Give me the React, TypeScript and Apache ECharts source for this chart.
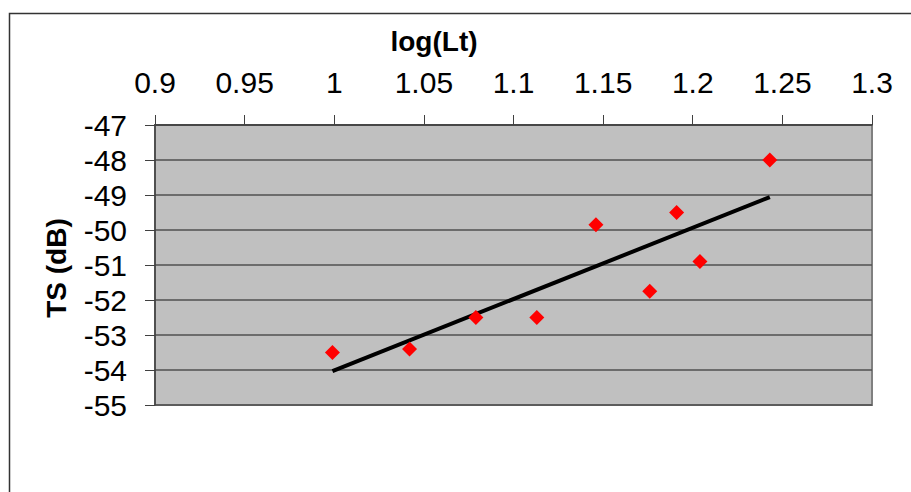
import React, { useEffect, useRef } from "react";
import * as echarts from "echarts";

// Scatter data
const logLt: number[] = [0.999, 1.042, 1.079, 1.113, 1.146, 1.176, 1.191, 1.204, 1.243];
const tsDb: number[] = [-53.5, -53.4, -52.5, -52.5, -49.85, -51.75, -49.5, -50.9, -48.0];

// Trend line end points
const trendX: number[] = [0.999, 1.243];
const trendY: number[] = [-54.03, -49.06];

const xTitle = "log(Lt)";
const yTitle = "TS (dB)";

const FONT = "'Liberation Sans', Arial, Helvetica, sans-serif";

export default function App() {
  const ref = useRef<HTMLDivElement>(null);

  useEffect(() => {
    if (!ref.current) return;
    const chart = echarts.init(ref.current, null, { renderer: "svg" });
    const points = logLt.map((x, i) => [x, tsDb[i]]);
    const trend = trendX.map((x, i) => [x, trendY[i]]);

    chart.setOption({
      animation: false,
      backgroundColor: "#ffffff",
      textStyle: { fontFamily: FONT },
      grid: {
        left: 155,
        top: 125,
        right: 39,
        bottom: 87,
        show: true,
        backgroundColor: "#C0C0C0",
        borderColor: "#808080",
        borderWidth: 2,
      },
      graphic: [
        {
          type: "rect",
          silent: true,
          z: -10,
          shape: { x: 9.5, y: 13.5, width: 1200, height: 1200 },
          style: { fill: "none", stroke: "#333333", lineWidth: 1.5 },
        },
        {
          type: "text",
          x: 434,
          y: 41.5,
          style: {
            text: xTitle,
            fontFamily: FONT,
            fontSize: 28,
            fontWeight: "bold",
            fill: "#000000",
            align: "center",
            verticalAlign: "middle",
          },
        },
        {
          type: "text",
          x: 56,
          y: 268,
          rotation: Math.PI / 2,
          style: {
            text: yTitle,
            fontFamily: FONT,
            fontSize: 28,
            fontWeight: "bold",
            fill: "#000000",
            align: "center",
            verticalAlign: "middle",
          },
        },
      ],
      xAxis: {
        type: "value",
        position: "top",
        min: 0.9,
        max: 1.3,
        interval: 0.05,
        axisLine: { show: true, onZero: false, lineStyle: { color: "#404040", width: 1.5 } },
        axisTick: { show: true, inside: false, length: 10, lineStyle: { color: "#404040", width: 1 } },
        axisLabel: { margin: 28, fontSize: 30, color: "#000000", fontFamily: FONT },
        splitLine: { show: false },
      },
      yAxis: {
        type: "value",
        min: -55,
        max: -47,
        interval: 1,
        axisLine: { show: true, onZero: false, lineStyle: { color: "#404040", width: 1.5 } },
        axisTick: { show: true, inside: false, length: 10, lineStyle: { color: "#404040", width: 1 } },
        axisLabel: { margin: 28, fontSize: 30, color: "#000000", fontFamily: FONT },
        splitLine: { show: true, lineStyle: { color: "#505050", width: 1.5 } },
      },
      series: [
        {
          type: "line",
          data: trend,
          symbol: "none",
          lineStyle: { color: "#000000", width: 4 },
          z: 2,
        },
        {
          type: "scatter",
          data: points,
          symbol: "diamond",
          symbolSize: [15, 15],
          itemStyle: { color: "#FF0000", opacity: 1 },
          z: 3,
        },
      ],
    });

    return () => {
      chart.dispose();
    };
  }, []);

  return (
    <div
      ref={ref}
      style={{ position: "absolute", left: 0, top: 0, width: 911, height: 492 }}
    />
  );
}
